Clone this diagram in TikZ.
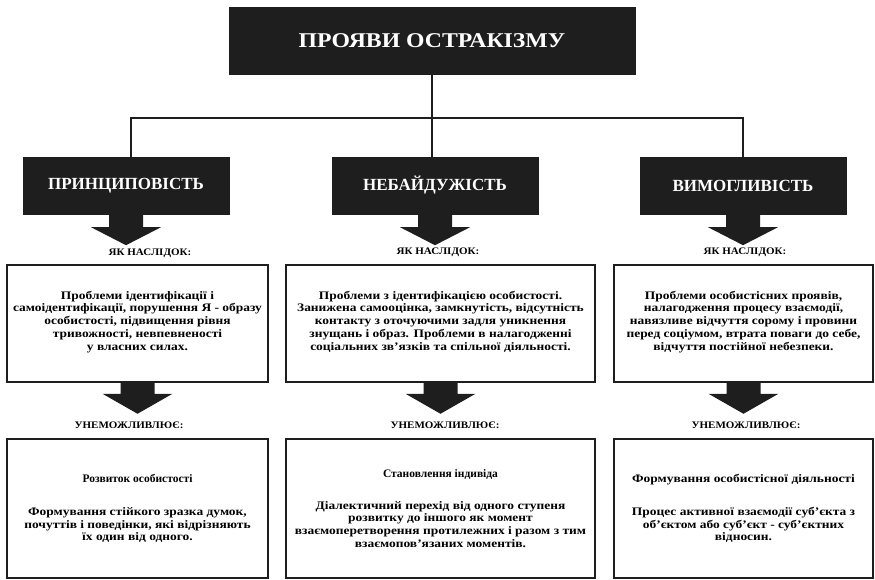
\documentclass[tikz,border=0pt]{standalone}
\usepackage{fontspec}
\setmainfont{Liberation Serif}
\newfontfamily\widefont{Liberation Serif}[FakeStretch=1.17]
\newfontfamily\titlefont{Liberation Serif}[FakeStretch=1.13]
\newfontfamily\lblfont{Liberation Serif}[FakeStretch=1.1]
\usepackage{tikz}
\usetikzlibrary{positioning}
\definecolor{boxblack}{RGB}{30,30,30}
% block arrow below a node: node, shaft length, head length
\newcommand{\bigdown}[3]{%
  \fill[boxblack] ([xshift=-17pt]#1.south) -- ++(0,#2) -- ++(-18,0) -- ++(35,#3)
    -- ++(35,-#3) -- ++(-18,0) -- ++(0,-#2) -- cycle;}

\begin{document}
\begin{tikzpicture}[
  x=1pt, y=-1pt,
  darkbox/.style={fill=boxblack, draw=boxblack, text=white, inner sep=0pt,
                  minimum width=206pt, minimum height=57pt,
                  font=\bfseries\fontsize{17}{20}\selectfont},
  txtbox/.style={draw=boxblack, line width=1.5pt, fill=white, align=center,
                 inner sep=0pt, font=\widefont\bfseries\fontsize{11.5}{12.8}\selectfont},
  lbl/.style={font=\lblfont\bfseries\fontsize{10}{12}\selectfont, inner sep=0pt},
  conn/.style={draw=boxblack, line width=2pt}
]
  \useasboundingbox (0,0) rectangle (875,579);

  \node[darkbox, minimum width=406pt, minimum height=67pt,
        font=\titlefont\bfseries\fontsize{21}{24}\selectfont] (title) at (432,40.5)
    {ПРОЯВИ ОСТРАКІЗМУ};

  \node[darkbox] (c1) at (126,185.5) {ПРИНЦИПОВІСТЬ};
  \node[darkbox] (c2) at (435,185.5) {НЕБАЙДУЖІСТЬ};
  \node[darkbox] (c3) at (743,185.5) {ВИМОГЛИВІСТЬ};

  \coordinate (bus) at (432,118);
  \draw[conn] (title.south) -- (bus);
  \draw[conn] ([xshift=5pt]c1.north) |- (bus) -| (c3.north);
  \draw[conn] (bus) -- (bus |- c2.north);

  \bigdown{c1}{13}{18}
  \bigdown{c2}{13}{18}
  \bigdown{c3}{13}{18}

  \node[lbl] (k1) at (150,253) {ЯК НАСЛІДОК:};
  \node[lbl] (k2) at (438,252) {ЯК НАСЛІДОК:};
  \node[lbl] (k3) at (745,252) {ЯК НАСЛІДОК:};

  \node[txtbox, minimum width=261pt, minimum height=117pt] (m1) at (137.5,323.5)
    {Проблеми ідентифікації і\\ самоідентифікації, порушення Я - образу\\
     особистості, підвищення рівня\\ тривожності, невпевненості\\ у власних силах.\\[-7pt]\mbox{}};
  \node[txtbox, minimum width=309pt, minimum height=117pt] (m2) at (440.5,323.5)
    {Проблеми з ідентифікацією особистості.\\ Занижена самооцінка, замкнутість, відсутність\\
     контакту з оточуючими задля уникнення\\ знущань і образ. Проблеми в налагодженні\\
     соціальних зв’язків та спільної діяльності.\\[-7pt]\mbox{}};
  \node[txtbox, minimum width=259pt, minimum height=117pt] (m3) at (743.5,323.5)
    {Проблеми особистісних проявів,\\ налагодження процесу взаємодії,\\
     навязливе відчуття сорому і провини\\ перед соціумом, втрата поваги до себе,\\
     відчуття постійної небезпеки.\\[-7pt]\mbox{}};

  \bigdown{m1}{11}{20}
  \bigdown{m2}{11}{20}
  \bigdown{m3}{11}{20}

  \node[lbl] (u1) at (129,425) {УНЕМОЖЛИВЛЮЄ:};
  \node[lbl] (u2) at (445,425) {УНЕМОЖЛИВЛЮЄ:};
  \node[lbl] (u3) at (746,425) {УНЕМОЖЛИВЛЮЄ:};

  \node[txtbox, minimum width=261pt, minimum height=139pt] (b1) at (137.5,508.5)
    {{\rmfamily Розвиток особистості}\\[20pt] Формування стійкого зразка думок,\\
     почуттів і поведінки, які відрізняють\\ їх один від одного.};
  \node[txtbox, minimum width=309pt, minimum height=139pt] (b2) at (440.5,508.5)
    {{\rmfamily Становлення індивіда}\\[19pt] Діалектичний перехід від одного ступеня\\
     розвитку до іншого як момент\\ взаємоперетворення протилежних і разом з тим\\
     взаємопов’язаних моментів.};
  \node[txtbox, minimum width=259pt, minimum height=139pt] (b3) at (743.5,508.5)
    {Формування особистісної діяльності\\[20pt] Процес активної взаємодії суб’єкта з\\
     об’єктом або суб’єкт - суб’єктних\\ відносин.};
\end{tikzpicture}
\end{document}
